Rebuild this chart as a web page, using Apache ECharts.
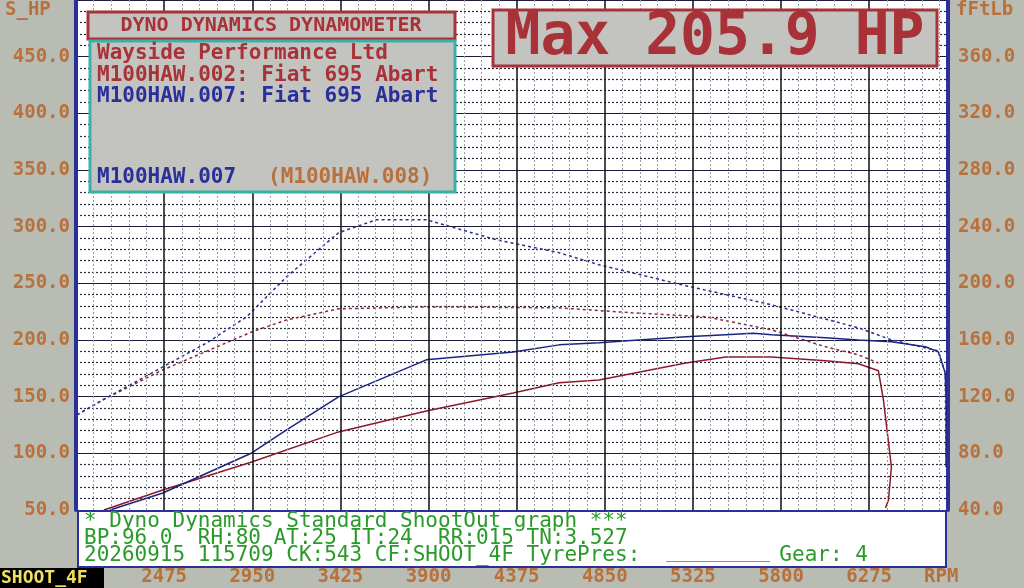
<!DOCTYPE html>
<html><head><meta charset="utf-8">
<script src="https://cdn.jsdelivr.net/npm/echarts@6/dist/echarts.min.js"></script>
<style>html,body{margin:0;padding:0;background:#b9bcb2;}#c{width:1024px;height:588px;}</style>
</head><body><div id="c"></div>
<script>
const xTickLabels = [2475, 2950, 3425, 3900, 4375, 4850, 5325, 5800, 6275];
const bluePower = [[2183,50],[2468,65.0],[2947,100.3],[3135,120.7],[3415,149.8],[3888,182.5],[4356,189.5],[4604,195.7],[4819,197.5],[5287,202.8],[5502,204.6],[5650,205.9],[5749,204.6],[6040,201.9],[6217,200.1],[6395,198.4],[6578,194.0],[6648,189.5],[6685,171.0],[6690,147.2],[6690,88.0]];
const redPower = [[2150,50],[2468,67.7],[2947,92.4],[3415,118.9],[3888,137.4],[4356,153.3],[4604,162.2],[4819,164.8],[5287,179.8],[5502,185.1],[5749,185.1],[6040,181.6],[6217,179.0],[6325,172.8],[6352,147.2],[6395,88.0],[6379,58.8],[6363,51.8]];
const blueTorque = [[2005,107.1],[2145,117.8],[2468,141.0],[2705,158.0],[2920,176.4],[3135,204.6],[3415,235.7],[3619,244.9],[3888,244.9],[4265,230.8],[4604,221.6],[4819,213.1],[5287,198.3],[5749,184.9],[6217,168.6],[6395,160.1],[6648,152.3],[6685,136.8],[6690,70.4]];
const redTorque = [[2005,107.1],[2145,117.8],[2274,126.2],[2468,138.9],[2721,153.0],[2947,165.7],[3135,174.2],[3415,182.0],[3888,183.4],[4604,182.7],[4996,179.2],[5394,176.4],[5749,167.2],[6040,155.2],[6217,149.5],[6325,143.8]];
const maxText = 'Max 205.9 HP';

const XMIN=2000, XMAX=6700, STEP=475;
const mono = '"DejaVu Sans Mono", "Liberation Mono", monospace';
const major=[], minor=[];
for(let v=2475-STEP; v<=XMAX; v+=STEP){ if(v>XMIN) major.push(v); for(let k=1;k<5;k++){const m=v+k*STEP/5; if(m>XMIN&&m<XMAX) minor.push(m);} }
const chart = echarts.init(document.getElementById('c'));
const orange='#b8713c';
const G = (o)=>Object.assign({z:100},o);
chart.setOption({
  animation:false,
  backgroundColor:'#b9bcb2',
  grid:{left:76,right:76,top:0,bottom:78,show:true,backgroundColor:'#ffffff',borderWidth:0},
  xAxis:{type:'value',min:XMIN,max:XMAX,
    axisLine:{show:false},axisTick:{show:false},splitLine:{show:false},
    axisLabel:{customValues:xTickLabels,formatter:v=>String(v),margin:58,color:orange,fontFamily:mono,fontSize:19,fontWeight:'bold'}},
  yAxis:[{type:'value',min:50,max:500,interval:50,
    axisLine:{show:true,lineStyle:{color:'#2a2f9a',width:4}},axisTick:{show:false},
    axisLabel:{showMaxLabel:false,formatter:v=>v.toFixed(1),color:orange,fontFamily:mono,fontSize:19,fontWeight:'bold',margin:6},
    splitLine:{lineStyle:{color:'#1c1c3a',width:1.2}},
    minorTick:{show:false,splitNumber:5},
    minorSplitLine:{show:true,lineStyle:{color:'#2a2a40',type:[2,2],width:1.2}}},
   {type:'value',min:40,max:400,interval:40,position:'right',
    axisLine:{show:true,lineStyle:{color:'#2a2f9a',width:4}},axisTick:{show:false},splitLine:{show:false},
    axisLabel:{showMaxLabel:false,formatter:v=>v.toFixed(1),color:orange,fontFamily:mono,fontSize:19,fontWeight:'bold',margin:10}}],
  series:[
    {type:'line',data:[],silent:true,markLine:{symbol:'none',silent:true,label:{show:false},
      data:minor.map(v=>({xAxis:v,lineStyle:{color:'#9a9aa8',type:[2,2],width:1}})).concat(major.map(v=>({xAxis:v,lineStyle:{color:'#111',type:'solid',width:1.5}})))}},
    {name:'rp',type:'line',data:redPower,showSymbol:false,lineStyle:{color:'#8a1a2a',width:1.5}},
    {name:'bp',type:'line',data:bluePower,showSymbol:false,lineStyle:{color:'#1a2480',width:1.5}},
    {name:'rt',type:'line',yAxisIndex:1,data:redTorque,showSymbol:false,lineStyle:{color:'#8a2a40',width:1.5,type:[3,3]}},
    {name:'bt',type:'line',yAxisIndex:1,data:blueTorque,showSymbol:false,lineStyle:{color:'#2a3090',width:1.5,type:[3,3]}}
  ],
  graphic:[
    G({type:'rect',shape:{x:78,y:511,width:868,height:56},style:{fill:'#fff',stroke:'#2a2f9a',lineWidth:2}}),
    G({type:'text',x:84,y:511,z:101,style:{text:'* Dyno Dynamics Standard ShootOut graph ***',fill:'#2a9a2a',font:'21px '+mono}}),
    G({type:'text',x:84,y:528,z:101,style:{text:'BP:96.0  RH:80 AT:25 IT:24  RR:015 TN:3.527',fill:'#2a9a2a',font:'21px '+mono}}),
    G({type:'text',x:84,y:545,z:101,style:{text:'20260915 115709 CK:543 CF:SHOOT_4F TyrePres:           Gear: 4',fill:'#2a9a2a',font:'21px '+mono}}),
    G({type:'rect',z:101,shape:{x:666,y:561,width:104,height:1},style:{fill:'#8888cc'}}),
    G({type:'rect',shape:{x:88,y:12,width:367,height:27},style:{fill:'#c3c3c0',stroke:'#a83238',lineWidth:3}}),
    G({type:'text',x:271,y:26,z:101,style:{text:'DYNO DYNAMICS DYNAMOMETER',fill:'#a83238',font:'bold 20px '+mono,align:'center',verticalAlign:'middle'}}),
    G({type:'rect',shape:{x:90,y:41,width:365,height:151},style:{fill:'#c3c3c0',stroke:'#3ab0a8',lineWidth:3}}),
    G({type:'text',x:97,y:43,z:101,style:{text:'Wayside Performance Ltd',fill:'#a83238',font:'bold 21px '+mono}}),
    G({type:'text',x:97,y:65,z:101,style:{text:'M100HAW.002: Fiat 695 Abart',fill:'#a83238',font:'bold 21px '+mono}}),
    G({type:'text',x:97,y:86,z:101,style:{text:'M100HAW.007: Fiat 695 Abart',fill:'#2a2f9a',font:'bold 21px '+mono}}),
    G({type:'text',x:97,y:167,z:101,style:{text:'M100HAW.007',fill:'#2a2f9a',font:'bold 21px '+mono}}),
    G({type:'text',x:268,y:167,z:101,style:{text:'(M100HAW.008)',fill:'#b8713c',font:'bold 21px '+mono}}),
    G({type:'rect',shape:{x:493,y:10,width:444,height:56},style:{fill:'#c3c3c0',stroke:'#a83238',lineWidth:3}}),
    G({type:'text',x:715,y:39,z:101,style:{text:maxText,fill:'#a83238',font:'bold 58px '+mono,align:'center',verticalAlign:'middle'}}),
    G({type:'text',x:5,y:1,style:{text:'S_HP',fill:orange,font:'bold 19px '+mono}}),
    G({type:'text',x:956,y:1,style:{text:'fFtLb',fill:orange,font:'bold 19px '+mono}}),
    G({type:'text',x:924,y:577,style:{text:'RPM',fill:orange,font:'bold 19px '+mono,verticalAlign:'middle'}}),
    G({type:'rect',shape:{x:0,y:568,width:104,height:20},style:{fill:'#000'}}),
    G({type:'text',x:1,y:578,z:101,style:{text:'SHOOT_4F',fill:'#f0e060',font:'bold 18px '+mono,verticalAlign:'middle'}})
  ]
});
</script></body></html>
